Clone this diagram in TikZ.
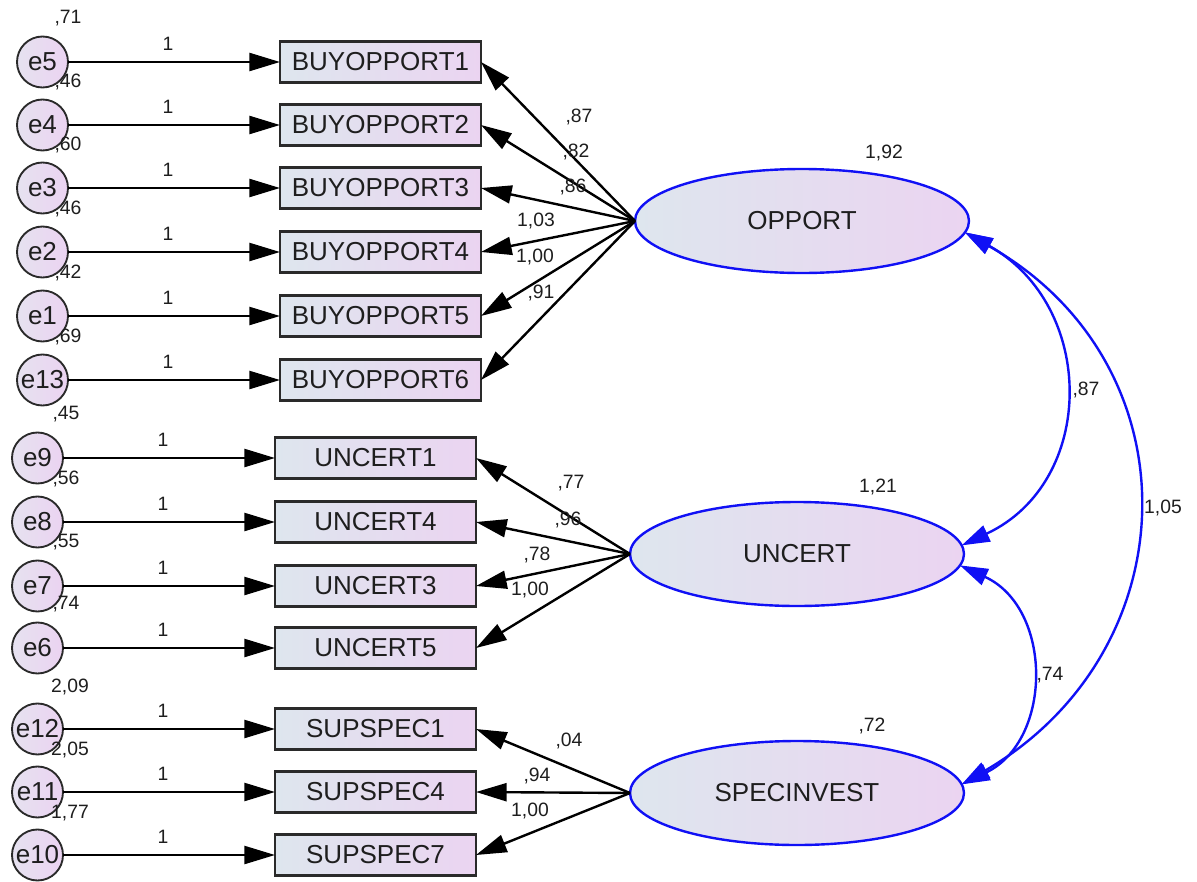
\documentclass[tikz,border=0pt]{standalone}
\usepackage{fontspec}
\setmainfont{Liberation Sans}
\usetikzlibrary{shapes.geometric,arrows.meta}
\definecolor{gl}{HTML}{DEE6EE}
\definecolor{gr}{HTML}{EBD4F1}
\definecolor{cl}{HTML}{E6E2F0}
\definecolor{cr}{HTML}{EBD3F1}
\definecolor{bord}{HTML}{2A2A2A}
\definecolor{cblue}{HTML}{1010F5}
\definecolor{txt}{HTML}{1E1E1E}
\begin{document}
\begin{tikzpicture}[x=0.75pt,y=-0.75pt,
  obs/.style={draw=bord, line width=1.8pt, left color=gl, right color=gr,
    minimum width=150.75pt, minimum height=30.75pt, inner sep=0pt, outer sep=0pt,
    font=\fontsize{19.5}{20}\selectfont, text=txt},
  err/.style={circle, draw=bord, line width=1.4pt, left color=cl, right color=cr,
    minimum size=38.25pt, inner sep=0pt, outer sep=0pt,
    font=\fontsize{19.5}{20}\selectfont, text=txt},
  lat/.style={ellipse, draw=cblue, line width=1.8pt, left color=gl, right color=gr,
    minimum width=250.5pt, minimum height=78pt, inner sep=0pt, outer sep=0pt,
    font=\fontsize{19.5}{20}\selectfont, text=txt},
  lab/.style={font=\fontsize{14.5}{15}\selectfont, inner sep=0pt, text=txt},
  ld/.style={line width=1.8pt, -{Triangle[length=23pt,width=13.5pt]}},
  cv/.style={draw=cblue, line width=1.8pt,
    {Triangle[length=21pt,width=13pt]}-{Triangle[length=21pt,width=13pt]}}]
\useasboundingbox (0,0) rectangle (1197,882);

% latent variables
\node[lat] (opp) at (802,221) {OPPORT};
\node[lat] (unc) at (797,554) {UNCERT};
\node[lat] (spec) at (797,793) {SPECINVEST};
\node[lab] at (884,153) {1,92};
\node[lab] at (878,487) {1,21};
\node[lab] at (872,726) {,72};

% OPPORT group
\foreach \n/\e/\y/\v in {1/5/62/71, 2/4/125/46, 3/3/188/60, 4/2/252/46, 5/1/316/42, 6/13/380/69}{
  \node[obs] (b\n) at (380.5,\y) {BUYOPPORT\n};
  \node[err] (e\e) at (42.5,\y) {e\e};
  \draw[ld] (e\e) -- (b\n);
  \node[lab] at (168,\y-18) {1};
  \node[lab] at (68,\y-43.5) {,\v};
  \draw[ld] (opp.west) -- (b\n.east);
}
\node[lab] at (579,117) {,87};
\node[lab] at (576,152) {,82};
\node[lab] at (573,187) {,86};
\node[lab] at (536,221) {1,03};
\node[lab] at (535,257) {1,00};
\node[lab] at (541,293) {,91};

% UNCERT group
\foreach \n/\e/\y/\v in {1/9/458/45, 4/8/522/56, 3/7/586/55, 5/6/648/74}{
  \node[obs] (u\n) at (375.5,\y) {UNCERT\n};
  \node[err] (e\e) at (37.5,\y) {e\e};
  \draw[ld] (e\e) -- (u\n);
  \node[lab] at (163,\y-18) {1};
  \node[lab] at (66,\y-43.5) {,\v};
  \draw[ld] (unc.west) -- (u\n.east);
}
\node[lab] at (571,483) {,77};
\node[lab] at (568,520) {,96};
\node[lab] at (537,555) {,78};
\node[lab] at (530,590) {1,00};

% SPECINVEST group
\foreach \n/\e/\y in {1/12/729, 4/11/792, 7/10/855}{
  \node[obs] (s\n) at (375.5,\y) {SUPSPEC\n};
  \node[err] (e\e) at (37.5,\y) {e\e};
  \draw[ld] (e\e) -- (s\n);
  \node[lab] at (163,\y-18) {1};
  \draw[ld] (spec.west) -- (s\n.east);
}
\node[lab] at (70,687) {2,09};
\node[lab] at (70,750) {2,05};
\node[lab] at (70,813) {1,77};
\node[lab] at (569,741) {,04};
\node[lab] at (537,776) {,94};
\node[lab] at (530,811) {1,00};

% covariances
\draw[cv] (opp.-4) .. controls (1097,306) and (1097,482) .. (unc.3);
\draw[cv] (opp.-4) .. controls (1197,364) and (1191,650) .. (spec.3.5);
\draw[cv] (unc.-4) .. controls (1053,608) and (1053,740) .. (spec.3.5);
\node[lab] at (1086,390) {,87};
\node[lab] at (1163,508) {1,05};
\node[lab] at (1050,675) {,74};
\end{tikzpicture}
\end{document}
